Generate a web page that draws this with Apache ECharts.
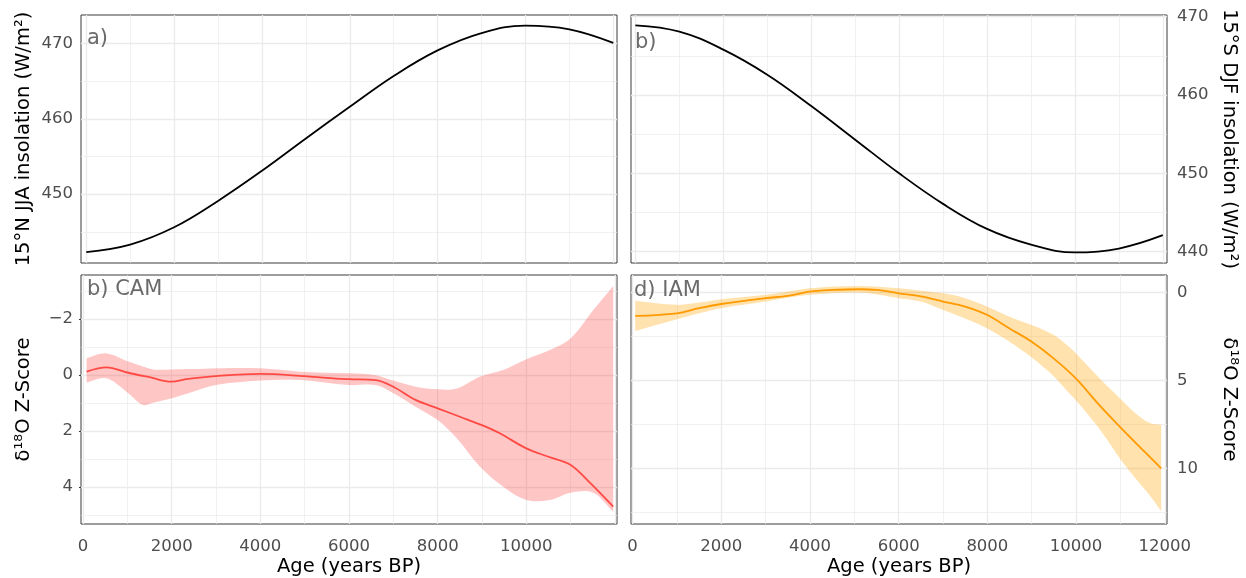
<!DOCTYPE html>
<html>
<head>
<meta charset="utf-8">
<title>Holocene insolation and δ18O composites</title>
<script src="https://cdn.jsdelivr.net/npm/echarts@6/dist/echarts.min.js"></script>
<style>
  html, body { margin: 0; padding: 0; background: #ffffff; }
  #chart { width: 1246px; height: 578px; }
</style>
</head>
<body>
<div id="chart"></div>
<script>
// ---- Orbital insolation (W/m²), 1 kyr steps ----
const insolAges   = [0, 1000, 2000, 3000, 4000, 5000, 6000, 7000, 8000, 9000, 10000, 11000, 12000];
const insolN15JJA = [442.3, 443.3, 445.6, 449.1, 453.1, 457.4, 461.6, 465.7, 469.1, 471.4, 472.4, 471.9, 470.1];
const insolS15DJF = [468.9, 468.1, 465.8, 462.6, 458.6, 454.3, 450.0, 446.1, 442.9, 440.9, 439.9, 440.4, 442.1];

// ---- CAM δ18O z-score composite: smoothed mean and uncertainty envelope ----
const camAges = [80, 530, 1020, 1500, 2000, 2330, 3000, 4000, 5000, 5500, 6000, 6600, 7000, 7500, 8000, 8500, 9000, 9400, 10000, 10500, 11000, 11450, 11960];
const camMean = [-0.12, -0.27, -0.08, 0.08, 0.24, 0.15, 0.04, -0.04, 0.04, 0.10, 0.15, 0.18, 0.42, 0.89, 1.19, 1.49, 1.79, 2.08, 2.62, 2.92, 3.21, 3.87, 4.70];
const camBandAges = [80, 530, 1020, 1350, 1580, 2000, 2480, 3000, 4000, 4900, 6000, 6600, 7000, 7500, 8000, 8430, 8950, 9480, 10000, 10530, 11000, 11510, 11960];
const camBandLow  = [-0.60, -0.77, -0.48, -0.30, -0.20, -0.20, -0.21, -0.24, -0.24, -0.12, -0.06, 0.01, 0.20, 0.42, 0.51, 0.48, 0.06, -0.18, -0.56, -0.89, -1.31, -2.32, -3.18];
const camBandHigh = [0.27, 0.12, 0.65, 1.07, 0.99, 0.83, 0.60, 0.36, 0.20, 0.18, 0.36, 0.36, 0.65, 1.13, 1.61, 2.26, 3.27, 3.99, 4.46, 4.46, 4.20, 4.20, 4.88];

// ---- IAM δ18O z-score composite ----
const iamAges = [60, 1000, 1500, 2000, 3000, 3500, 4000, 4500, 5100, 5500, 6000, 6500, 7000, 7500, 8000, 8500, 9000, 9500, 10000, 10500, 11000, 11450, 11920];
const iamMean = [1.33, 1.18, 0.89, 0.65, 0.32, 0.19, -0.06, -0.15, -0.19, -0.15, 0.04, 0.22, 0.51, 0.80, 1.28, 2.04, 2.80, 3.76, 4.90, 6.33, 7.67, 8.82, 10.00];
const iamBandAges = [60, 1000, 1500, 2000, 3000, 4000, 5100, 6000, 6500, 7000, 7500, 8000, 8500, 9000, 9500, 9800, 10000, 10500, 11000, 11450, 11680, 11920];
const iamBandLow  = [0.46, 0.70, 0.57, 0.38, 0.13, -0.25, -0.38, -0.25, -0.11, 0.04, 0.32, 0.80, 1.37, 1.85, 2.42, 3.00, 3.47, 4.81, 6.05, 7.10, 7.44, 7.52];
const iamBandHigh = [2.19, 1.52, 1.18, 0.89, 0.51, 0.13, 0.00, 0.32, 0.51, 0.99, 1.47, 2.04, 2.80, 3.70, 4.77, 5.60, 6.14, 7.67, 9.48, 10.91, 11.60, 12.44];

// ---- Tick and grid values ----
const ageTicks      = [0, 2000, 4000, 6000, 8000, 10000, 12000];
const ageTicksCam   = [0, 2000, 4000, 6000, 8000, 10000];
const ageGrid       = [0, 1000, 2000, 3000, 4000, 5000, 6000, 7000, 8000, 9000, 10000, 11000, 12000];
const insolNTicks   = [450, 460, 470];
const insolNGrid    = [445, 450, 455, 460, 465, 470];
const insolSTicks   = [440, 450, 460, 470];
const insolSGrid    = [440, 445, 450, 455, 460, 465, 470];
const camTicks      = [-2, 0, 2, 4];
const camGrid       = [-3, -2, -1, 0, 1, 2, 3, 4, 5];
const iamTicks      = [0, 5, 10];
const iamGrid       = [0, 2.5, 5, 7.5, 10, 12.5];

const FONT = 'DejaVu Sans';
const TICK_COLOR = '#333333';
const LABEL_COLOR = '#4d4d4d';
const TICK_FONT = 16.5;
const TITLE_FONT = 19.5;

const zip = (a, b) => a.map((v, i) => [v, b[i]]);
const fmtMinus = v => (v < 0 ? '\u2212' + Math.abs(v) : String(v));
const fmtPlain = v => String(v);

// panel rectangles (grid placement)
const grids = [
  { left: 81,  top: 15,  width: 536, height: 248 },
  { left: 631, top: 15,  width: 536, height: 248 },
  { left: 81,  top: 275, width: 536, height: 249 },
  { left: 631, top: 275, width: 536, height: 249 }
].map(g => Object.assign(g, {
  show: true, borderColor: '#3a3a3a', borderWidth: 1,
  backgroundColor: 'transparent', containLabel: false, outerBoundsMode: 'none'
}));

function xAxis(gi, min, max, tickVals, labelVals, withName) {
  return {
    type: 'value', gridIndex: gi, min: min, max: max,
    axisLine: { show: false },
    splitLine: { show: false },
    axisTick: tickVals ? { show: true, customValues: tickVals, length: 4, lineStyle: { color: TICK_COLOR, width: 1 } } : { show: false },
    axisLabel: labelVals ? { show: true, customValues: labelVals, margin: 14, color: LABEL_COLOR, fontFamily: FONT, fontSize: TICK_FONT, formatter: fmtPlain } : { show: false },
    name: withName ? 'Age (years BP)' : '',
    nameLocation: 'middle', nameGap: 33, nameMoveOverlap: false,
    nameTextStyle: { color: '#000000', fontFamily: FONT, fontSize: TITLE_FONT }
  };
}

function yAxis(gi, pos, min, max, vals, inverse, name, fmt) {
  const right = pos === 'right';
  return {
    type: 'value', gridIndex: gi, position: pos, min: min, max: max, inverse: inverse,
    axisLine: { show: false },
    splitLine: { show: false },
    axisTick: { show: true, customValues: vals, length: 4, lineStyle: { color: TICK_COLOR, width: 1 } },
    axisLabel: { show: true, customValues: vals, margin: right ? 10 : 8, color: LABEL_COLOR, fontFamily: FONT, fontSize: TICK_FONT, formatter: fmt || fmtPlain },
    name: name, nameLocation: 'middle', nameGap: right ? 52 : 47, nameRotate: right ? -90 : 90,
    nameMoveOverlap: false,
    nameTextStyle: { color: '#000000', fontFamily: FONT, fontSize: TITLE_FONT }
  };
}

// light background gridlines (major + minor) drawn through the axes' scales
function gridLines(gi, xVals, xMajorStep, yVals, yMajor) {
  const items = [];
  xVals.forEach(v => items.push({ xAxis: v, lineStyle: { width: v % xMajorStep === 0 ? 1.3 : 0.7 } }));
  yVals.forEach(v => items.push({ yAxis: v, lineStyle: { width: yMajor.indexOf(v) >= 0 ? 1.3 : 0.7 } }));
  return {
    type: 'line', xAxisIndex: gi, yAxisIndex: gi, silent: true, z: 1,
    data: [[xVals[0], yVals[0]]], symbol: 'none', showSymbol: false,
    lineStyle: { opacity: 0 },
    markLine: {
      silent: true, z: 1, animation: false, symbol: ['none', 'none'],
      label: { show: false }, emphasis: { disabled: true },
      lineStyle: { color: '#ebebeb', type: 'solid' },
      data: items
    }
  };
}

// confidence envelope: one polygon along the upper edge and back along the lower edge
function band(gi, ages, lo, hi, color) {
  const data = ages.map((a, i) => [a, lo[i], hi[i]]);
  return {
    type: 'custom', xAxisIndex: gi, yAxisIndex: gi, silent: true, z: 2,
    data: data, encode: { x: 0, y: [1, 2] },
    renderItem: function (params, api) {
      if (params.dataIndex !== 0) return null;
      const upper = data.map(d => api.coord([d[0], d[1]]));
      const lower = data.map(d => api.coord([d[0], d[2]])).reverse();
      // repeat the end vertices so the cut ends stay straight
      const pts = [upper[0]].concat(upper, [upper[upper.length - 1]],
                                    [lower[0]], lower, [lower[lower.length - 1]]);
      return {
        type: 'polygon',
        shape: { points: pts, smooth: 0.35 },
        style: { fill: color, stroke: null }
      };
    }
  };
}

function curve(gi, ages, vals, color, width, smooth) {
  return { type: 'line', xAxisIndex: gi, yAxisIndex: gi, data: zip(ages, vals),
           symbol: 'none', showSymbol: false, smooth: smooth, silent: true, z: 3,
           lineStyle: { color: color, width: width } };
}

const tagStyle = { fontFamily: FONT, fontSize: 21, fontWeight: 'normal', color: '#6b6b6b' };

const option = {
  animation: false,
  backgroundColor: '#ffffff',
  title: [
    { text: 'a)',     left: 87,  top: 28,  padding: 0, textStyle: tagStyle },
    { text: 'b)',     left: 635, top: 32,  padding: 0, textStyle: tagStyle },
    { text: 'b) CAM', left: 87,  top: 279, padding: 0, textStyle: tagStyle },
    { text: 'd) IAM', left: 634, top: 280, padding: 0, textStyle: tagStyle }
  ],
  grid: grids,
  xAxis: [
    xAxis(0, -120, 12085, null, null, false),
    xAxis(1, -100, 12095, null, null, false),
    xAxis(2, -45, 12045, ageTicks, ageTicksCam, true),
    xAxis(3, -35, 12050, ageTicks, ageTicks, true)
  ],
  yAxis: [
    yAxis(0, 'left', 440.85, 473.8, insolNTicks, false, '15°N JJA insolation (W/m²)'),
    yAxis(1, 'right', 438.55, 470.22, insolSTicks, false, '15°S DJF insolation (W/m²)'),
    yAxis(2, 'left', -3.57, 5.32, camTicks, true, 'δ¹⁸O Z-Score', fmtMinus),
    yAxis(3, 'right', -1.0, 13.17, iamTicks, true, 'δ¹⁸O Z-Score', fmtMinus)
  ],
  series: [
    gridLines(0, ageGrid, 2000, insolNGrid, insolNTicks),
    gridLines(1, ageGrid, 2000, insolSGrid, insolSTicks),
    gridLines(2, ageGrid, 2000, camGrid, camTicks),
    gridLines(3, ageGrid, 2000, iamGrid, iamTicks),

    curve(0, insolAges, insolN15JJA, '#000000', 1.8, 0.4),
    curve(1, insolAges, insolS15DJF, '#000000', 1.8, 0.4),

    band(2, camBandAges, camBandLow, camBandHigh, 'rgba(255,45,45,0.27)'),
    curve(2, camAges, camMean, '#ff4a44', 1.8, 0.35),

    band(3, iamBandAges, iamBandLow, iamBandHigh, 'rgba(255,165,0,0.32)'),
    curve(3, iamAges, iamMean, '#ff9a00', 1.8, 0.35)
  ]
};

const chart = echarts.init(document.getElementById('chart'), null, { renderer: 'canvas' });
chart.setOption(option);
</script>
</body>
</html>
